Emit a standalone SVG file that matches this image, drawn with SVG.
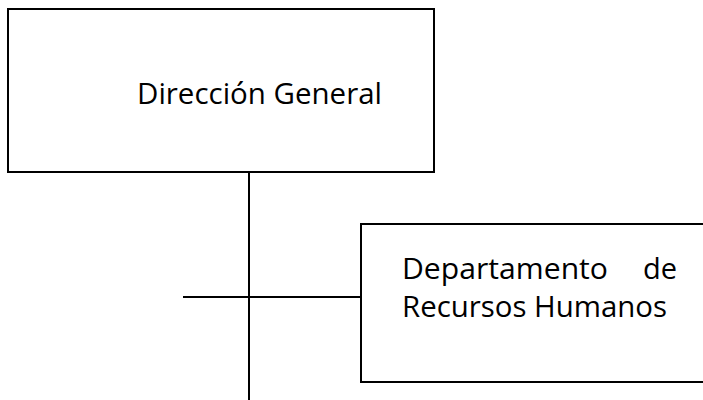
<svg xmlns="http://www.w3.org/2000/svg" width="703" height="400" viewBox="0 0 703 400">
<style>
.box{fill:#fff;stroke:#000;stroke-width:2}
.ln{stroke:#000;stroke-width:2;fill:none}
.t{font-family:"Open Sans","Noto Sans","DejaVu Sans",sans-serif;font-size:29px;fill:#000}
</style>
<rect width="703" height="400" fill="#fff"/>
<g id="connectors">
<line class="ln" x1="249" y1="172" x2="249" y2="400"/>
<line class="ln" x1="183" y1="297" x2="361" y2="297"/>
</g>
<g id="n1">
<rect class="box" x="8" y="9" width="426" height="163"/>
<text class="t" x="137" y="104" textLength="245" lengthAdjust="spacingAndGlyphs">Dirección General</text>
</g>
<g id="n2">
<path class="box" d="M703 224 H361 V382 H703"/>
<text class="t" x="402" y="279" textLength="206" lengthAdjust="spacingAndGlyphs">Departamento</text>
<text class="t" x="677" y="279" text-anchor="end">de</text>
<text class="t" x="402" y="317" textLength="265" lengthAdjust="spacingAndGlyphs">Recursos Humanos</text>
</g>
</svg>
